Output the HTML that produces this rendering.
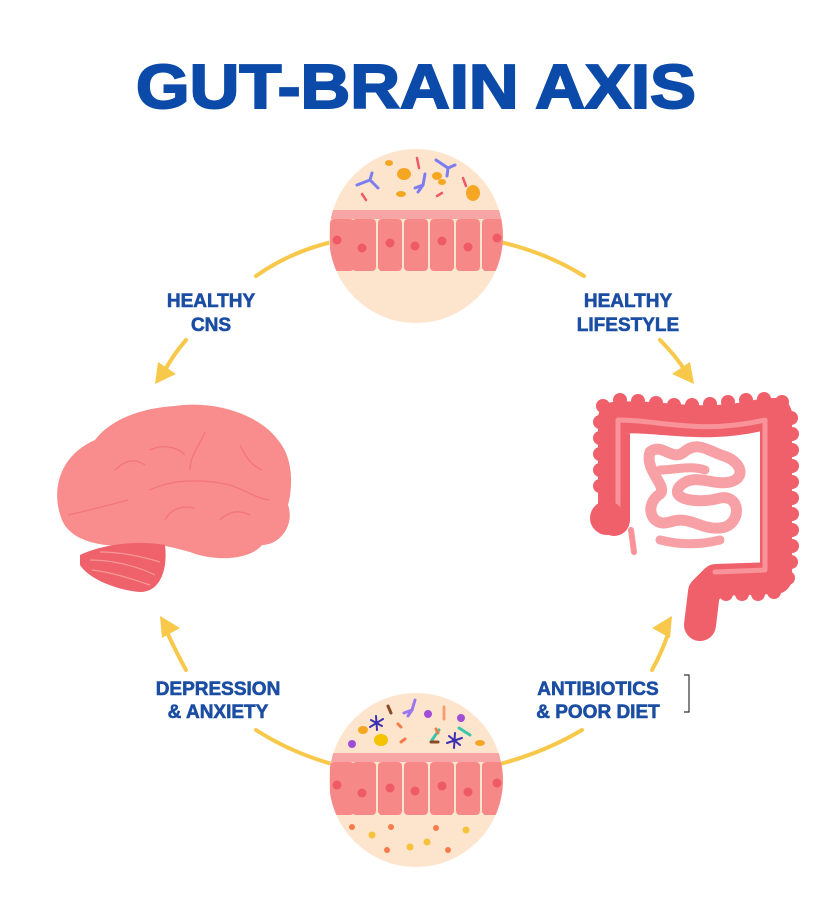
<!DOCTYPE html>
<html><head><meta charset="utf-8"><style>
html,body{margin:0;padding:0;background:#fff;}
svg{display:block;}
text{font-family:"Liberation Sans",sans-serif;font-weight:bold;}
</style></head><body>
<svg width="838" height="908" viewBox="0 0 838 908" xmlns="http://www.w3.org/2000/svg">
<defs>
<clipPath id="c1"><circle cx="416" cy="236" r="87"/></clipPath>
<clipPath id="c2"><circle cx="416" cy="780" r="87"/></clipPath>
</defs>
<text x="416" y="108" text-anchor="middle" font-size="62" fill="#0b4aa8" textLength="560" lengthAdjust="spacingAndGlyphs" stroke="#0b4aa8" stroke-width="2">GUT-BRAIN AXIS</text>

<g fill="none" stroke="#f7c84a" stroke-width="4" stroke-linecap="round">
<path d="M332 242 Q290 252 256 276"/>
<path d="M186 340 Q172 356 163 374"/>
<path d="M500 242 Q545 252 584 276"/>
<path d="M660 340 Q676 356 686 372"/>
<path d="M332 764 Q290 752 256 730"/>
<path d="M186 670 Q176 652 166 630"/>
<path d="M500 764 Q545 752 582 730"/>
<path d="M652 670 Q662 652 668 634"/>
</g>
<g fill="#f7c84a">
<polygon points="155,384 158,362 176,374"/>
<polygon points="694,384 690,362 672,374"/>
<polygon points="160,616 162,638 180,628"/>
<polygon points="672,616 670,638 652,628"/>
</g>

<g fill="#1b4ea3" font-size="19" text-anchor="middle" stroke="#1b4ea3" stroke-width="0.6">
<text x="211" y="307">HEALTHY</text><text x="211" y="331">CNS</text>
<text x="628" y="307">HEALTHY</text><text x="628" y="331">LIFESTYLE</text>
<text x="218" y="695">DEPRESSION</text><text x="218" y="718">&amp; ANXIETY</text>
<text x="598" y="695">ANTIBIOTICS</text><text x="598" y="718">&amp; POOR DIET</text>
</g>
<path d="M684 675 H689 V712 H684" fill="none" stroke="#333" stroke-width="1.2"/>

<circle cx="416" cy="236" r="87" fill="#fde5cd"/>
<g clip-path="url(#c1)">
<rect x="320" y="210" width="200" height="9" fill="#f7a5a5"/>
<g fill="#f68888">
<rect x="330" y="219" width="24" height="52" rx="4"/><rect x="352" y="219" width="24" height="52" rx="4"/>
<rect x="378" y="219" width="24" height="52" rx="4"/><rect x="404" y="219" width="24" height="52" rx="4"/>
<rect x="430" y="219" width="24" height="52" rx="4"/><rect x="456" y="219" width="24" height="52" rx="4"/>
<rect x="482" y="219" width="24" height="52" rx="4"/>
</g>
<g fill="#ee5a66"><circle cx="337" cy="240" r="4.5"/><circle cx="362" cy="248" r="4.5"/><circle cx="390" cy="243" r="4.5"/><circle cx="415" cy="246" r="4.5"/><circle cx="442" cy="241" r="4.5"/><circle cx="468" cy="247" r="4.5"/><circle cx="497" cy="238" r="4.5"/></g>
</g>
<g fill="#f5a623"><ellipse cx="389" cy="163" rx="4" ry="3"/><ellipse cx="404" cy="174" rx="7" ry="6"/><ellipse cx="437" cy="176" rx="5" ry="4"/><ellipse cx="442" cy="182" rx="4" ry="3"/><ellipse cx="401" cy="194" rx="5" ry="3"/><ellipse cx="473" cy="193" rx="7" ry="8"/></g>
<g stroke="#7b7df0" stroke-width="3" fill="none" stroke-linecap="round"><path d="M357 185 L370 180 L378 188 M370 180 L372 173"/><path d="M436 160 L448 168 L455 165 M448 168 L447 176"/><path d="M418 192 L423 185 L425 174 M423 185 L415 188"/></g>
<g stroke="#ee5a66" stroke-width="2.5" stroke-linecap="round"><path d="M417 158 L419 168"/><path d="M362 194 L366 200"/><path d="M437 196 L442 193"/><path d="M463 178 L466 186"/></g>

<circle cx="416" cy="780" r="87" fill="#fde5cd"/>
<g clip-path="url(#c2)">
<rect x="320" y="753" width="200" height="9" fill="#f7a5a5"/>
<g fill="#f68888">
<rect x="330" y="762" width="24" height="53" rx="4"/><rect x="352" y="762" width="24" height="53" rx="4"/>
<rect x="378" y="762" width="24" height="53" rx="4"/><rect x="404" y="762" width="24" height="53" rx="4"/>
<rect x="430" y="762" width="24" height="53" rx="4"/><rect x="456" y="762" width="24" height="53" rx="4"/>
<rect x="482" y="762" width="24" height="53" rx="4"/>
</g>
<g fill="#ee5a66"><circle cx="337" cy="785" r="4.5"/><circle cx="362" cy="793" r="4.5"/><circle cx="390" cy="788" r="4.5"/><circle cx="415" cy="791" r="4.5"/><circle cx="442" cy="786" r="4.5"/><circle cx="468" cy="792" r="4.5"/><circle cx="497" cy="783" r="4.5"/></g>
</g>
<g fill="#f57c4a"><circle cx="352" cy="827" r="3"/><circle cx="391" cy="827" r="3"/><circle cx="436" cy="828" r="3"/><circle cx="387" cy="850" r="3"/><circle cx="448" cy="850" r="3"/></g>
<g fill="#f7c13a"><circle cx="372" cy="835" r="3.5"/><circle cx="466" cy="830" r="3.5"/><circle cx="410" cy="847" r="3.5"/><circle cx="427" cy="842" r="3.5"/></g>
<g fill="#a04ed8"><circle cx="352" cy="744" r="4"/><circle cx="428" cy="714" r="4"/><circle cx="461" cy="718" r="4"/></g>
<g fill="#f5c300"><ellipse cx="381" cy="740" rx="7" ry="6"/></g>
<g fill="#f5a623"><ellipse cx="363" cy="730" rx="5" ry="4"/><ellipse cx="480" cy="743" rx="5" ry="3"/></g>
<g stroke="#3a2fb0" stroke-width="2" stroke-linecap="round"><path d="M371 720 L382 726 M376 716 L377 730 M370 727 L383 719"/><path d="M449 736 L460 745 M455 733 L454 748 M447 743 L462 738"/></g>
<g stroke-width="3" stroke-linecap="round" fill="none"><path d="M388 706 L391 713" stroke="#8a4a2a"/><path d="M432 740 L439 730" stroke="#3cc6a8"/><path d="M459 728 L470 735" stroke="#3cc6a8"/><path d="M431 742 L438 742" stroke="#8a4a2a"/><path d="M401 742 L405 739 M398 724 L401 727 M436 729 L438 733" stroke="#f57c4a"/><path d="M408 716 L412 710 L415 700 M412 710 L404 713" stroke="#9a77f0"/><path d="M444 707 L444 719" stroke="#f5a06a" stroke-dasharray="3 2"/></g>

<!-- brain -->
<path d="M62 520 C50 490 60 455 95 440 C110 420 140 408 175 406 C215 400 260 415 278 440 C295 460 292 490 288 505 C295 525 280 545 262 545 C250 560 215 562 190 552 C165 545 150 542 130 545 C100 548 70 540 62 520 Z" fill="#f98c8c"/>
<path d="M80 555 C100 545 135 540 165 545 C168 570 160 592 140 592 C115 590 88 578 80 565 Z" fill="#ef616b"/>
<g fill="none" stroke="#f0707a" stroke-width="1.3" opacity="0.8">
<path d="M68 515 C90 510 110 505 128 500 M150 490 C170 480 200 478 230 485 C245 490 260 500 270 500 M190 470 C190 455 200 445 205 432 M150 450 C160 445 175 445 185 455 M115 470 C125 460 135 458 145 465 M240 445 C245 455 250 465 262 470 M220 520 C230 510 240 510 250 515 M165 520 C170 510 180 505 195 508"/>
</g>
<g fill="none" stroke="#f89a9a" stroke-width="1.2"><path d="M90 560 C110 560 135 565 155 575 M92 570 C110 572 130 578 150 585 M100 552 C120 552 140 556 160 562"/></g>

<!-- intestine -->
<g fill="#f0606a">
<circle cx="603" cy="406" r="7"/><circle cx="600" cy="422" r="7"/><circle cx="600" cy="438" r="7"/><circle cx="600" cy="454" r="7"/><circle cx="600" cy="470" r="7"/><circle cx="600" cy="486" r="7"/>
<circle cx="620" cy="400" r="7"/><circle cx="638" cy="401" r="7"/><circle cx="656" cy="403" r="7"/><circle cx="674" cy="405" r="7"/><circle cx="692" cy="405" r="7"/><circle cx="710" cy="404" r="7"/><circle cx="728" cy="402" r="7"/><circle cx="746" cy="400" r="7"/><circle cx="764" cy="399" r="7"/><circle cx="782" cy="402" r="7"/>
<circle cx="791" cy="418" r="7"/><circle cx="792" cy="434" r="7"/><circle cx="792" cy="450" r="7"/><circle cx="792" cy="466" r="7"/><circle cx="792" cy="482" r="7"/><circle cx="792" cy="498" r="7"/><circle cx="792" cy="514" r="7"/><circle cx="792" cy="530" r="7"/><circle cx="792" cy="546" r="7"/><circle cx="791" cy="562" r="7"/><circle cx="788" cy="578" r="7"/>
<circle cx="774" cy="592" r="7"/><circle cx="758" cy="594" r="7"/><circle cx="742" cy="594" r="7"/><circle cx="726" cy="594" r="7"/>
</g>
<g fill="none" stroke-linecap="round" stroke-linejoin="round">
<path d="M614 520 L614 418 C660 414 700 430 765 414 L776 414 L776 578 L716 580 L704 592 L700 625" stroke="#f0606a" stroke-width="32"/>
<path d="M618 520 L618 420 C660 420 700 435 765 420 L765 570 L715 572" stroke="#f8939a" stroke-width="5"/>
<path d="M650 452 C662 442 672 462 684 452 C698 440 710 452 724 456 C742 462 746 478 730 482 C712 486 694 472 680 486 C668 500 700 504 720 498 C742 494 742 526 720 528 C700 530 690 515 670 522 C650 528 644 504 660 494 C668 486 644 470 650 452 Z" stroke="#f7a0a5" stroke-width="11"/>
<path d="M660 470 C675 470 690 465 705 470" stroke="#f7a0a5" stroke-width="9"/>
<path d="M660 540 C680 545 700 545 720 540" stroke="#f7a0a5" stroke-width="9"/>
</g>
<circle cx="607" cy="518" r="17" fill="#f0606a"/>
<path d="M631 530 L634 552" stroke="#f8939a" stroke-width="6" stroke-linecap="round"/>
<ellipse cx="700" cy="615" rx="10" ry="18" fill="#f0606a"/>
</svg>
</body></html>
